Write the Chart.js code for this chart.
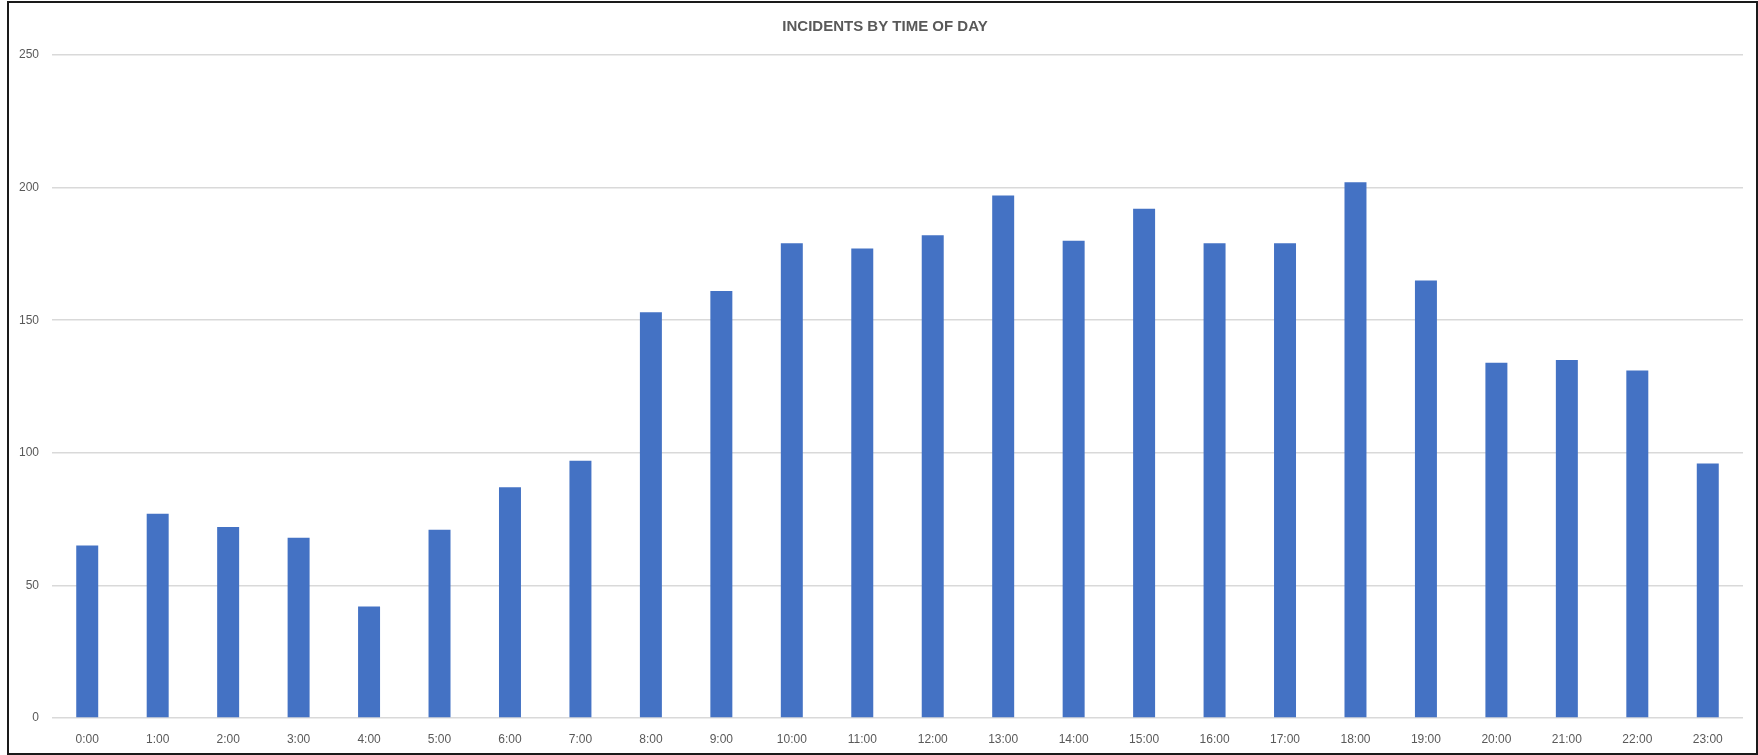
<!DOCTYPE html>
<html>
<head>
<meta charset="utf-8">
<script src="https://cdn.jsdelivr.net/npm/chart.js@4"></script>
<style>
  body { margin: 0; background: #fff; }
</style>
</head>
<body>
<canvas id="hourChart" width="1758" height="755"></canvas>
<script>
const hours = [
  "0:00", "1:00", "2:00", "3:00", "4:00", "5:00", "6:00", "7:00",
  "8:00", "9:00", "10:00", "11:00", "12:00", "13:00", "14:00", "15:00",
  "16:00", "17:00", "18:00", "19:00", "20:00", "21:00", "22:00", "23:00",
];
const incidents = [
  65, 77, 72, 68, 42, 71, 87, 97,
  153, 161, 179, 177, 182, 197, 180, 192,
  179, 179, 202, 165, 134, 135, 131, 96,
];
const yTicks = [0, 50, 100, 150, 200, 250];
const chartTitle = "INCIDENTS BY TIME OF DAY";

// white background, dark frame, and the title centred over the whole frame
const frame = {
  id: "frame",
  beforeDraw(chart) {
    const c = chart.ctx;
    c.save();
    c.fillStyle = "#fff";
    c.fillRect(0, 0, chart.width, chart.height);
    c.strokeStyle = "#1a1a1a";
    c.lineWidth = 2;
    c.strokeRect(8, 2, chart.width - 9, chart.height - 3);
    c.fillStyle = "#595959";
    c.font = "bold 15px 'Liberation Sans', Arial, sans-serif";
    c.textAlign = "center";
    c.textBaseline = "middle";
    c.fillText(chartTitle, 885, 26.5);
    c.restore();
  },
};

const tickFont = { family: "'Liberation Sans', Arial, sans-serif", size: 12 };

new Chart(document.getElementById("hourChart").getContext("2d"), {
  type: "bar",
  data: {
    labels: hours,
    datasets: [
      {
        label: "Incidents",
        data: incidents,
        backgroundColor: "#4472C4",
        borderWidth: 0,
        barPercentage: 0.312,
        categoryPercentage: 1,
      },
    ],
  },
  options: {
    responsive: false,
    animation: false,
    layout: { padding: { left: 0, right: 15, top: 55, bottom: 0 } },
    plugins: {
      legend: { display: false },
      tooltip: { enabled: false },
      title: { display: false },
    },
    scales: {
      x: {
        grid: { display: false },
        border: { display: false },
        ticks: { color: "#595959", font: tickFont, padding: 6, maxRotation: 0 },
        afterFit: (s) => { s.height = 37; },
      },
      y: {
        min: 0,
        max: 250,
        afterBuildTicks: (s) => { s.ticks = yTicks.map((v) => ({ value: v })); },
        grid: { color: "#d9d9d9", lineWidth: 1.5, drawTicks: false },
        border: { display: false },
        ticks: { color: "#595959", font: tickFont, padding: 13 },
        afterFit: (s) => { s.width = 52; },
      },
    },
  },
  plugins: [frame],
});
</script>
</body>
</html>
